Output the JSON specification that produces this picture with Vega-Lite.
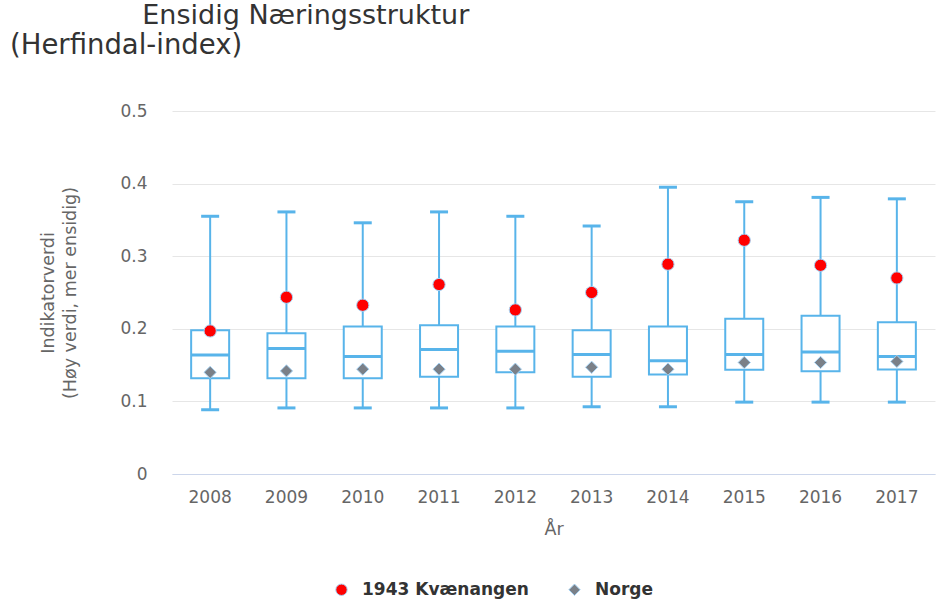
{
  "$schema": "https://vega.github.io/schema/vega-lite/v6.json",
  "autosize": {"type": "none"},
  "width": 763,
  "height": 363,
  "padding": {"left": 172, "top": 111, "right": 15, "bottom": 126},
  "background": "white",
  "title": {
    "text": "\u200B\u2003\u2003\u2003\u2003\u2002\u2009\u2009Ensidig Næringsstruktur",
    "subtitle": "(Herfindal-index)",
    "anchor": "start",
    "frame": "group",
    "dx": -162,
    "offset": 42,
    "font": "DejaVu Sans",
    "fontSize": 27,
    "fontWeight": "normal",
    "color": "#333333",
    "subtitleFont": "DejaVu Sans",
    "subtitleFontSize": 27.5,
    "subtitleColor": "#333333",
    "subtitlePadding": 2,
    "limit": 900
  },
  "config": {
    "view": {"stroke": null},
    "font": "DejaVu Sans"
  },
  "datasets": {
    "boxes": [
      {"year": "2008", "min": 0.0885, "q1": 0.132, "median": 0.164, "q3": 0.198, "max": 0.355},
      {"year": "2009", "min": 0.091, "q1": 0.132, "median": 0.173, "q3": 0.194, "max": 0.361},
      {"year": "2010", "min": 0.091, "q1": 0.132, "median": 0.162, "q3": 0.203, "max": 0.346},
      {"year": "2011", "min": 0.091, "q1": 0.134, "median": 0.1715, "q3": 0.205, "max": 0.361},
      {"year": "2012", "min": 0.091, "q1": 0.140, "median": 0.169, "q3": 0.203, "max": 0.355},
      {"year": "2013", "min": 0.0926, "q1": 0.134, "median": 0.1646, "q3": 0.198, "max": 0.3416},
      {"year": "2014", "min": 0.0926, "q1": 0.137, "median": 0.156, "q3": 0.203, "max": 0.395},
      {"year": "2015", "min": 0.099, "q1": 0.1435, "median": 0.1646, "q3": 0.2137, "max": 0.375},
      {"year": "2016", "min": 0.099, "q1": 0.1417, "median": 0.168, "q3": 0.218, "max": 0.381},
      {"year": "2017", "min": 0.099, "q1": 0.144, "median": 0.162, "q3": 0.209, "max": 0.379}
    ],
    "points": [
      {"year": "2008", "serie": "1943 Kvænangen", "value": 0.197},
      {"year": "2009", "serie": "1943 Kvænangen", "value": 0.2435},
      {"year": "2010", "serie": "1943 Kvænangen", "value": 0.2325},
      {"year": "2011", "serie": "1943 Kvænangen", "value": 0.261},
      {"year": "2012", "serie": "1943 Kvænangen", "value": 0.226},
      {"year": "2013", "serie": "1943 Kvænangen", "value": 0.250},
      {"year": "2014", "serie": "1943 Kvænangen", "value": 0.289},
      {"year": "2015", "serie": "1943 Kvænangen", "value": 0.322},
      {"year": "2016", "serie": "1943 Kvænangen", "value": 0.2875},
      {"year": "2017", "serie": "1943 Kvænangen", "value": 0.270},
      {"year": "2008", "serie": "Norge", "value": 0.140},
      {"year": "2009", "serie": "Norge", "value": 0.142},
      {"year": "2010", "serie": "Norge", "value": 0.1444},
      {"year": "2011", "serie": "Norge", "value": 0.1444},
      {"year": "2012", "serie": "Norge", "value": 0.1444},
      {"year": "2013", "serie": "Norge", "value": 0.147},
      {"year": "2014", "serie": "Norge", "value": 0.1444},
      {"year": "2015", "serie": "Norge", "value": 0.1536},
      {"year": "2016", "serie": "Norge", "value": 0.1536},
      {"year": "2017", "serie": "Norge", "value": 0.155}
    ]
  },
  "encoding": {
    "x": {
      "field": "year",
      "type": "nominal",
      "scale": {"type": "band", "paddingInner": 0, "paddingOuter": 0},
      "axis": {
        "title": "År",
        "labelAngle": 0,
        "labelFont": "DejaVu Sans",
        "labelFontSize": 17,
        "labelColor": "#666666",
        "labelPadding": 15,
        "ticks": false,
        "domain": true,
        "domainColor": "#ccd6eb",
        "domainWidth": 1,
        "grid": false,
        "titleFont": "DejaVu Sans",
        "titleFontSize": 17.5,
        "titleFontWeight": "normal",
        "titleColor": "#666666",
        "titlePadding": 15
      }
    }
  },
  "layer": [
    {
      "data": {"name": "boxes"},
      "mark": {"type": "rule", "color": "#58b4ea", "strokeWidth": 2},
      "encoding": {
        "y": {
          "field": "min",
          "type": "quantitative",
          "scale": {"domain": [0, 0.5], "nice": false, "zero": true},
          "axis": {
            "title": ["Indikatorverdi", "(Høy verdi, mer ensidig)"],
            "values": [0, 0.1, 0.2, 0.3, 0.4, 0.5],
            "format": "~g",
            "labelFont": "DejaVu Sans",
            "labelFontSize": 17,
            "labelColor": "#666666",
            "labelPadding": 25,
            "ticks": false,
            "domain": false,
            "grid": true,
            "gridColor": "#e6e6e6",
            "gridWidth": 1,
            "titleFont": "DejaVu Sans",
            "titleFontSize": 17.5,
            "titleFontWeight": "normal",
            "titleColor": "#666666",
            "titleLineHeight": 22,
            "titlePadding": 40
          }
        },
        "y2": {"field": "max"}
      }
    },
    {
      "data": {"name": "boxes"},
      "mark": {"type": "bar", "fill": "white", "stroke": "#58b4ea", "strokeWidth": 2, "size": 38},
      "encoding": {
        "y": {"field": "q1", "type": "quantitative"},
        "y2": {"field": "q3"}
      }
    },
    {
      "data": {"name": "boxes"},
      "mark": {"type": "tick", "color": "#58b4ea", "size": 38, "thickness": 3, "opacity": 1},
      "encoding": {
        "y": {"field": "median", "type": "quantitative"}
      }
    },
    {
      "data": {"name": "boxes"},
      "mark": {"type": "tick", "color": "#58b4ea", "size": 18, "thickness": 3, "opacity": 1},
      "encoding": {
        "y": {"field": "min", "type": "quantitative"}
      }
    },
    {
      "data": {"name": "boxes"},
      "mark": {"type": "tick", "color": "#58b4ea", "size": 18, "thickness": 3, "opacity": 1},
      "encoding": {
        "y": {"field": "max", "type": "quantitative"}
      }
    },
    {
      "data": {"name": "points"},
      "mark": {"type": "point", "filled": true, "opacity": 1, "stroke": "#a8d4f5", "strokeWidth": 1, "size": 150},
      "encoding": {
        "y": {"field": "value", "type": "quantitative"},
        "color": {
          "field": "serie",
          "type": "nominal",
          "scale": {"domain": ["1943 Kvænangen", "Norge"], "range": ["#ff0000", "#7a8088"]},
          "legend": {
            "title": null,
            "orient": "none",
            "direction": "horizontal",
            "legendX": 161,
            "legendY": 470,
            "labelFont": "DejaVu Sans",
            "labelFontSize": 17,
            "labelFontWeight": "bold",
            "labelColor": "#333333",
            "labelLimit": 400,
            "symbolSize": 130,
            "symbolStrokeWidth": 1,
            "columnPadding": 37,
            "labelOffset": 12
          }
        },
        "shape": {
          "field": "serie",
          "type": "nominal",
          "scale": {"domain": ["1943 Kvænangen", "Norge"], "range": ["circle", "diamond"]}
        }
      }
    }
  ]
}
